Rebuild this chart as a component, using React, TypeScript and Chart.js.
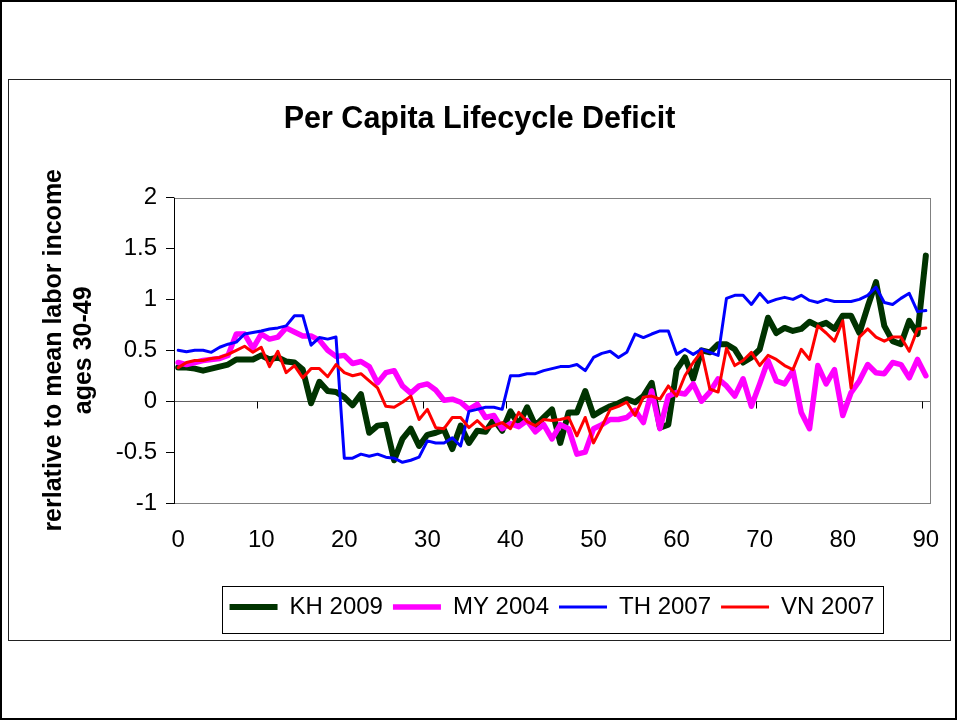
import React, { useEffect, useRef } from 'react';
import { Chart, registerables } from 'chart.js';

Chart.register(...registerables);

const FONT = "'Liberation Sans', Arial, Helvetica, sans-serif";

const TITLE = 'Per Capita Lifecycle Deficit';
const Y_TITLE = ['rerlative to mean labor income', 'ages 30-49'];

const AGES = [
  '0', '1', '2', '3', '4', '5', '6', '7', '8', '9',
  '10', '11', '12', '13', '14', '15', '16', '17', '18', '19',
  '20', '21', '22', '23', '24', '25', '26', '27', '28', '29',
  '30', '31', '32', '33', '34', '35', '36', '37', '38', '39',
  '40', '41', '42', '43', '44', '45', '46', '47', '48', '49',
  '50', '51', '52', '53', '54', '55', '56', '57', '58', '59',
  '60', '61', '62', '63', '64', '65', '66', '67', '68', '69',
  '70', '71', '72', '73', '74', '75', '76', '77', '78', '79',
  '80', '81', '82', '83', '84', '85', '86', '87', '88', '89',
  '90',
];
const X_TICK_LABELS = ['0', '10', '20', '30', '40', '50', '60', '70', '80', '90'];
const Y_MIN = -1;
const Y_MAX = 2;
const Y_STEP = 0.5;

const KH_2009 = [
  0.33, 0.33, 0.32, 0.30, 0.32, 0.34, 0.36, 0.41, 0.41, 0.41,
  0.45, 0.41, 0.43, 0.39, 0.38, 0.31, -0.02, 0.19, 0.10, 0.09,
  0.04, -0.04, 0.07, -0.31, -0.24, -0.23, -0.58, -0.37, -0.27, -0.44,
  -0.33, -0.31, -0.28, -0.47, -0.24, -0.41, -0.29, -0.30, -0.18, -0.29,
  -0.10, -0.23, -0.06, -0.24, -0.16, -0.08, -0.41, -0.11, -0.11, 0.10,
  -0.14, -0.09, -0.05, -0.02, 0.02, -0.01, 0.05, 0.18, -0.26, -0.23,
  0.31, 0.43, 0.22, 0.50, 0.48, 0.56, 0.56, 0.51, 0.38, 0.43,
  0.51, 0.82, 0.67, 0.72, 0.69, 0.71, 0.78, 0.74, 0.77, 0.71,
  0.84, 0.84, 0.67, 0.93, 1.17, 0.74, 0.59, 0.56, 0.79, 0.66,
  1.43,
];

const MY_2004 = [
  0.38, 0.36, 0.38, 0.40, 0.41, 0.42, 0.45, 0.66, 0.66, 0.52,
  0.66, 0.61, 0.63, 0.72, 0.68, 0.64, 0.64, 0.60, 0.50, 0.44,
  0.45, 0.37, 0.39, 0.34, 0.18, 0.28, 0.30, 0.15, 0.08, 0.15,
  0.17, 0.11, 0.01, 0.02, -0.01, -0.08, -0.03, -0.16, -0.14, -0.27,
  -0.22, -0.25, -0.19, -0.30, -0.23, -0.37, -0.23, -0.27, -0.52, -0.50,
  -0.27, -0.23, -0.18, -0.18, -0.16, -0.09, -0.21, 0.10, -0.27, 0.05,
  0.085, 0.07, 0.17, 0.0, 0.09, 0.22, 0.15, 0.05, 0.22, -0.05,
  0.17, 0.40, 0.20, 0.17, 0.30, -0.11, -0.27, 0.35, 0.17, 0.31,
  -0.14, 0.085, 0.20, 0.36, 0.28, 0.27, 0.38, 0.36, 0.23, 0.41,
  0.25,
];

const TH_2007 = [
  0.50, 0.485, 0.50, 0.50, 0.48, 0.53, 0.56, 0.58, 0.66, 0.675,
  0.69, 0.71, 0.72, 0.74, 0.84, 0.84, 0.55, 0.625, 0.61, 0.63,
  -0.56, -0.56, -0.52, -0.54, -0.52, -0.55, -0.56, -0.60, -0.58, -0.55,
  -0.39, -0.41, -0.41, -0.36, -0.44, -0.10, -0.08, -0.06, -0.06, -0.08,
  0.25, 0.25, 0.27, 0.27, 0.30, 0.32, 0.34, 0.34, 0.36, 0.30,
  0.43, 0.47, 0.49, 0.43, 0.48, 0.66, 0.625, 0.66, 0.69, 0.69,
  0.46, 0.51, 0.46, 0.51, 0.48, 0.45, 1.01, 1.04, 1.04, 0.95,
  1.06, 0.97, 1.00, 1.02, 1.00, 1.04, 0.99, 0.97, 1.00, 0.98,
  0.98, 0.98, 1.00, 1.04, 1.12, 0.97, 0.95, 1.01, 1.06, 0.88,
  0.89,
];

const VN_2007 = [
  0.33, 0.38, 0.40, 0.40, 0.42, 0.43, 0.46, 0.50, 0.54, 0.48,
  0.53, 0.34, 0.49, 0.28, 0.35, 0.23, 0.32, 0.32, 0.24, 0.36,
  0.28, 0.25, 0.27, 0.20, 0.13, -0.05, -0.06, -0.01, 0.05, -0.18,
  -0.08, -0.26, -0.27, -0.16, -0.16, -0.26, -0.19, -0.27, -0.24, -0.21,
  -0.27, -0.11, -0.20, -0.24, -0.18, -0.19, -0.18, -0.16, -0.34, -0.16,
  -0.41, -0.25, -0.08, -0.05, -0.01, -0.14, 0.04, 0.05, 0.02, 0.15,
  0.05, 0.25, 0.38, 0.49, 0.12, 0.09, 0.52, 0.35, 0.40, 0.48,
  0.35, 0.45, 0.41, 0.35, 0.31, 0.51, 0.41, 0.74, 0.67, 0.59,
  0.79, 0.13, 0.63, 0.71, 0.63, 0.59, 0.63, 0.63, 0.49, 0.71,
  0.72,
];

const SERIES_NAMES = ['KH 2009', 'MY 2004', 'TH 2007', 'VN 2007'];
const SERIES_DATA = [KH_2009, MY_2004, TH_2007, VN_2007];
const SERIES_COLORS = ['#003300', '#FF00FF', '#0000FF', '#FF0000'];
const SERIES_WIDTHS = [6, 5.5, 3, 3];

const framePlugin = {
  id: 'excelFrame',
  beforeDatasetsDraw(chart: any) {
    const { ctx, chartArea: a, scales } = chart;
    const x = scales.x;
    const y = scales.y;
    ctx.save();
    ctx.lineWidth = 1;
    ctx.strokeStyle = '#808080';
    ctx.strokeRect(Math.round(a.left) + 0.5, Math.round(a.top) + 0.5, Math.round(a.right - a.left), Math.round(a.bottom - a.top));
    const y0 = Math.round(y.getPixelForValue(0)) + 0.5;
    ctx.strokeStyle = '#606060';
    ctx.beginPath();
    ctx.moveTo(a.left, y0);
    ctx.lineTo(a.right, y0);
    ctx.stroke();
    const half = (x.getPixelForValue(1) - x.getPixelForValue(0)) / 2;
    ctx.strokeStyle = '#000';
    ctx.beginPath();
    AGES.forEach((age, i) => {
      if (X_TICK_LABELS.includes(age)) {
        const px = Math.round(x.getPixelForValue(i) - half) + 0.5;
        ctx.moveTo(px, y0);
        ctx.lineTo(px, y0 + 7);
      }
    });
    ctx.stroke();
    ctx.beginPath();
    ctx.moveTo(Math.round(a.left) + 0.5, a.top);
    ctx.lineTo(Math.round(a.left) + 0.5, a.bottom + 1);
    ctx.stroke();
    ctx.restore();
  },
  afterDraw(chart: any) {
    const lg = chart.legend;
    if (!lg || !lg.legendHitBoxes || !lg.legendHitBoxes.length) return;
    const hb = lg.legendHitBoxes;
    let l = Infinity, r = -Infinity, t = Infinity, b = -Infinity;
    hb.forEach((h: any) => {
      l = Math.min(l, h.left);
      r = Math.max(r, h.left + h.width);
      t = Math.min(t, h.top);
      b = Math.max(b, h.top + h.height);
    });
    const ctx = chart.ctx;
    ctx.save();
    ctx.strokeStyle = '#000';
    ctx.lineWidth = 1;
    ctx.strokeRect(Math.round(l - 8) + 0.5, Math.round(t - 9) + 0.5, Math.round(r - l + 16), Math.round(b - t + 23));
    ctx.restore();
  },
};

function LifecycleChart() {
  const ref = useRef<HTMLCanvasElement | null>(null);
  useEffect(() => {
    if (!ref.current) return;
    Chart.defaults.font.family = FONT;
    const chart = new Chart(ref.current, {
      type: 'line',
      data: {
        labels: AGES,
        datasets: SERIES_NAMES.map((name, i) => ({
          label: name,
          data: SERIES_DATA[i],
          borderColor: SERIES_COLORS[i],
          backgroundColor: SERIES_COLORS[i],
          borderWidth: SERIES_WIDTHS[i],
          pointRadius: 0,
          pointHoverRadius: 0,
          tension: 0,
          fill: false,
          borderJoinStyle: 'round',
          borderCapStyle: 'round',
          order: SERIES_NAMES.length - i,
        })),
      },
      options: {
        animation: false,
        responsive: false,
        devicePixelRatio: 1,
        layout: { padding: { left: 0, right: 0, top: 0, bottom: 11 } },
        plugins: {
          title: {
            display: true,
            text: TITLE,
            color: '#000',
            font: { family: FONT, size: 30.5, weight: 'bold', lineHeight: 1.2 },
            padding: { top: 21, bottom: 60 },
          },
          legend: {
            display: true,
            position: 'bottom',
            fullSize: false,
            align: 'center',
            labels: {
              usePointStyle: true,
              pointStyle: 'line',
              pointStyleWidth: 48,
              color: '#000',
              padding: 10,
              font: { family: FONT, size: 24 },
              sort: (a: any, b: any) => a.datasetIndex - b.datasetIndex,
            },
          },
          tooltip: { enabled: false },
        },
        scales: {
          x: {
            type: 'category',
            offset: true,
            grid: { display: false },
            border: { display: false },
            afterFit: (s: any) => { s.height = 82; s.paddingLeft = 0; s.paddingRight = 0; },
            ticks: {
              autoSkip: false,
              maxRotation: 0,
              minRotation: 0,
              padding: 15,
              color: '#000',
              font: { family: FONT, size: 24 },
              callback: (_v: any, idx: number) => (X_TICK_LABELS.includes(AGES[idx]) ? AGES[idx] : ''),
            },
          },
          y: {
            min: Y_MIN,
            max: Y_MAX,
            afterFit: (s: any) => { s.width = 165; },
            grid: { display: true, drawOnChartArea: false, drawTicks: true, tickLength: 8, color: '#000' },
            border: { display: false },
            ticks: {
              stepSize: Y_STEP,
              padding: 9,
              color: '#000',
              font: { family: FONT, size: 24 },
              callback: (v: any) => String(v),
            },
            title: {
              display: true,
              text: Y_TITLE,
              color: '#000',
              font: { family: FONT, size: 25, weight: 'bold', lineHeight: 1.2 },
              padding: { top: 30, bottom: 0 },
            },
          },
          yRightMargin: {
            type: 'linear',
            position: 'right',
            display: true,
            min: Y_MIN,
            max: Y_MAX,
            grid: { display: false },
            border: { display: false },
            ticks: { display: false },
            afterFit: (s: any) => { s.width = 20; },
          },
        },
      } as any,
      plugins: [framePlugin],
    });
    return () => chart.destroy();
  }, []);
  return <canvas ref={ref} width={941} height={560} style={{ display: 'block' }} />;
}

export default function App() {
  return (
    <div style={{ position: 'absolute', left: 0, top: 0, width: 957, height: 720, border: '2px solid #000', boxSizing: 'border-box', background: '#fff', overflow: 'hidden' }}>
      <div style={{ position: 'absolute', left: 6, top: 77, width: 943, height: 562, border: '1px solid #222', boxSizing: 'border-box' }}>
        <LifecycleChart />
      </div>
    </div>
  );
}
